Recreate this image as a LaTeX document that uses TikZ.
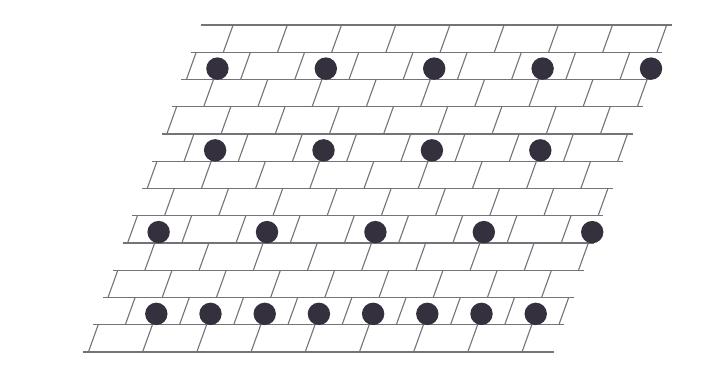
\documentclass[tikz,border=0pt]{standalone}
\definecolor{linec}{RGB}{115,115,122}
\definecolor{dotc}{RGB}{52,48,62}
\begin{document}
\begin{tikzpicture}[x=1pt,y=-1pt,
  gridline/.style={draw=linec,line width=1.1pt},
  dotmark/.style={fill=dotc,draw=none}]
\useasboundingbox[fill=white] (0,0) rectangle (718,372);
% horizontal lines
\foreach \r in {0,...,12}{
  \pgfmathsetmacro\yy{25+27.25*\r}
  \pgfmathsetmacro\xa{201-9.8*\r}
  \pgfmathsetmacro\xb{672-9.8*\r}
  \draw[gridline] (\xa,\yy) -- (\xb,\yy);
}
% slanted joints (running bond)
\foreach \r in {0,...,11}{
  \pgfmathtruncatemacro\p{mod(\r,2)}
  \foreach \k in {0,...,8}{
    \pgfmathsetmacro\u{206+27.1*(2*\k+1-\p)}
    \pgfmathsetmacro\ya{25+27.25*\r}
    \pgfmathsetmacro\yb{25+27.25*(\r+1)}
    \pgfmathsetmacro\xa{\u-9.8*\r}
    \pgfmathsetmacro\xb{\u-9.8*(\r+1)}
    \draw[gridline] (\xa,\ya) -- (\xb,\yb);
  }
}
% dots
\foreach \r/\mlist in {1/{1,5,9,13,17},4/{2,6,10,14},7/{1,5,9,13,17},10/{2,4,6,8,10,12,14,16}}{
  \foreach \m in \mlist{
    \pgfmathsetmacro\u{206+27.1*\m}
    \pgfmathsetmacro\yy{25+27.25*(\r+0.6)}
    \pgfmathsetmacro\xx{\u-9.8*(\r+0.6)}
    \fill[dotmark] (\xx,\yy) circle (11.2);
  }
}
\end{tikzpicture}
\end{document}
